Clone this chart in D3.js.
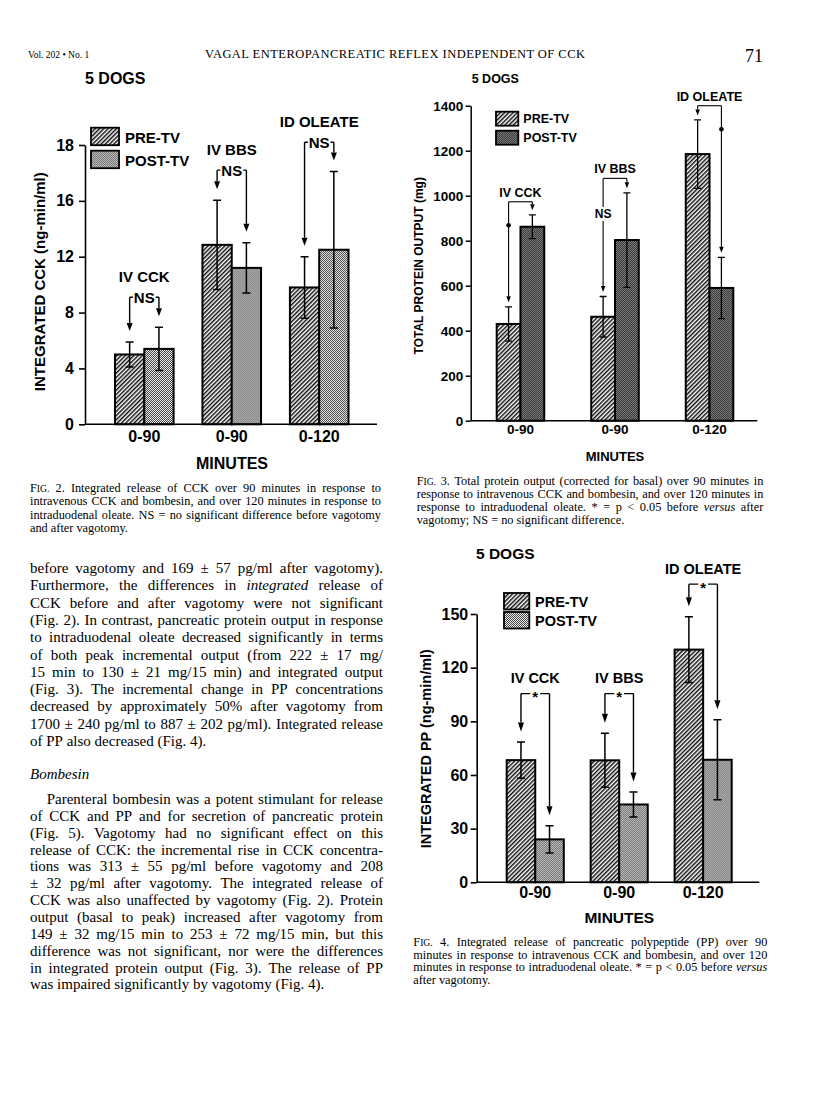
<!DOCTYPE html>
<html>
<head>
<meta charset="utf-8">
<script src="https://cdn.jsdelivr.net/npm/d3@7"></script>
<style>
  body { margin: 0; background: #fff; }
  svg { display: block; }
</style>
</head>
<body>
<svg id="page" width="816" height="1093"></svg>
<script>
// shared categories
const groups = ['IV CCK', 'IV BBS', 'ID OLEATE'];
const minuteLabels = ['0-90', '0-90', '0-120'];
const series = ['PRE-TV', 'POST-TV'];

// Fig. 2 - integrated CCK (ng-min/ml)
const cckPre = [5.0, 12.85, 9.8];
const cckPreErr = [0.9, 3.2, 2.2];
const cckPost = [5.4, 11.2, 12.5];
const cckPostErr = [1.55, 1.8, 5.6];
const cckSig = ['NS', 'NS', 'NS'];
const cckSigLevel = [9.1, 18.2, 20.2];
const cckTicks = [0, 4, 8, 12, 16, 20];
const cckTickLabels = ['0', '4', '8', '12', '16', '18'];

// Fig. 3 - total protein output (mg)
const protPre = [430, 462, 1185];
const protPreErr = [76, 90, 152];
const protPost = [862, 803, 590];
const protPostErr = [53, 210, 136];
const protSig = ['*', 'NS', '*'];
const protSigLevel = [973, 1077, 1400];
const protTicks = [0, 200, 400, 600, 800, 1000, 1200, 1400];
const protTickLabels = ['0', '200', '400', '600', '800', '1000', '1200', '1400'];

// Fig. 4 - integrated PP (ng-min/ml)
const ppPre = [68.3, 68.2, 130.1];
const ppPreErr = [10.1, 15.1, 18.4];
const ppPost = [24, 43.5, 68.5];
const ppPostErr = [7.6, 7, 22.4];
const ppSig = ['*', '*', '*'];
const ppSigLevel = [105.5, 105.5, 166.7];
const ppTicks = [0, 30, 60, 90, 120, 150];
const ppTickLabels = ['0', '30', '60', '90', '120', '150'];

const svg = d3.select('#page');
const defs = svg.append('defs');

// hatch for PRE-TV
const hatch = defs.append('pattern').attr('id', 'hatch')
  .attr('patternUnits', 'userSpaceOnUse')
  .attr('width', 3).attr('height', 6)
  .attr('patternTransform', 'rotate(45)');
hatch.append('rect').attr('width', 3).attr('height', 6).attr('fill', '#fff');
hatch.append('line').attr('x1', 0.75).attr('x2', 0.75).attr('y1', 0).attr('y2', 6)
  .attr('stroke', '#000').attr('stroke-width', 1.4);

// stipple for POST-TV
function stipple(id, bg, fg) {
  const p = defs.append('pattern').attr('id', id)
    .attr('patternUnits', 'userSpaceOnUse').attr('width', 2).attr('height', 2);
  p.append('rect').attr('width', 2).attr('height', 2).attr('fill', bg);
  p.append('rect').attr('width', 1).attr('height', 1).attr('fill', fg);
  p.append('rect').attr('x', 1).attr('y', 1).attr('width', 1).attr('height', 1).attr('fill', fg);
}
stipple('dotsLight', '#eee', '#444');
stipple('dotsDark', '#999', '#1a1a1a');

function drawFigure(f) {
  const g = svg.append('g')
    .attr('font-family', 'Liberation Sans, Arial, sans-serif')
    .attr('font-weight', 'bold');

  const y = d3.scaleLinear().domain(f.domain).range([f.y0, f.yTop]);
  const x = d3.scaleBand().domain(d3.range(groups.length))
    .range(f.barSpan).paddingInner(f.padInner).paddingOuter(0);
  const xs = d3.scaleBand().domain(series).range([0, x.bandwidth()]);
  const fillOf = s => s === series[0] ? 'url(#hatch)' : f.postFill;

  const rows = groups.map((name, i) => ({
    i, name, mark: f.sig[i], level: f.sigLevel[i],
    vals: [
      { s: series[0], v: f.pre[i], e: f.preErr[i] },
      { s: series[1], v: f.post[i], e: f.postErr[i] }
    ]
  }));

  // bars
  const grp = g.selectAll('g.grp').data(rows).join('g')
    .attr('class', 'grp')
    .attr('transform', d => `translate(${x(d.i)},0)`);

  grp.selectAll('rect').data(d => d.vals).join('rect')
    .attr('x', d => xs(d.s))
    .attr('y', d => y(d.v))
    .attr('width', xs.bandwidth())
    .attr('height', d => y(0) - y(d.v))
    .attr('fill', d => fillOf(d.s))
    .attr('stroke', '#000')
    .attr('stroke-width', f.barW);

  // error bars
  grp.selectAll('path.err').data(d => d.vals).join('path')
    .attr('class', 'err')
    .attr('d', d => {
      const cx = xs(d.s) + xs.bandwidth() / 2;
      const t = y(d.v + d.e), b = y(d.v - d.e), c = f.capW;
      return `M${cx},${t}V${b}M${cx - c},${t}H${cx + c}M${cx - c},${b}H${cx + c}`;
    })
    .attr('fill', 'none')
    .attr('stroke', '#000')
    .attr('stroke-width', f.errW);

  // y axis
  const yAx = g.append('g')
    .attr('transform', `translate(${f.axisX},0)`)
    .call(d3.axisLeft(y).tickValues(f.ticks)
      .tickFormat((d, i) => f.tickLabels[i])
      .tickSize(f.tickLen).tickSizeOuter(0).tickPadding(f.tickPad));
  yAx.attr('font-family', null).attr('font-size', f.fs.tick);
  yAx.selectAll('path, line').attr('stroke-width', f.axisW);

  // x axis
  g.append('line')
    .attr('x1', f.axisX).attr('x2', f.xEnd)
    .attr('y1', y(0)).attr('y2', y(0))
    .attr('stroke', '#000').attr('stroke-width', f.axisW);
  const xAx = g.append('g')
    .attr('transform', `translate(0,${y(0)})`)
    .call(d3.axisBottom(x).tickFormat(i => minuteLabels[i]).tickSize(0).tickPadding(f.xPad));
  xAx.select('.domain').remove();
  xAx.attr('font-family', null).attr('font-size', f.fs.xTick);

  // titles
  g.append('text')
    .attr('transform', `translate(${f.ylab[1]},${f.ylab[2]}) rotate(-90)`)
    .attr('text-anchor', 'middle').attr('font-size', f.fs.ylab)
    .text(f.ylab[0]);
  g.append('text').attr('x', f.title[0]).attr('y', f.title[1])
    .attr('text-anchor', 'middle').attr('font-size', f.fs.title).text('MINUTES');
  g.append('text').attr('x', f.dogs[0]).attr('y', f.dogs[1])
    .attr('font-size', f.fs.dogs).text('5 DOGS');

  // legend
  const leg = g.selectAll('g.leg').data(series).join('g')
    .attr('class', 'leg')
    .attr('transform', (d, i) => `translate(${f.leg.x},${f.leg.y + i * f.leg.dy})`);
  leg.append('rect')
    .attr('width', f.leg.w).attr('height', f.leg.h)
    .attr('fill', d => fillOf(d))
    .attr('stroke', '#000').attr('stroke-width', 1.8);
  leg.append('text')
    .attr('x', f.leg.w + f.leg.gap).attr('y', f.leg.tb)
    .attr('font-size', f.fs.legend).text(d => d);

  // significance brackets
  rows.forEach(d => {
    const cxs = d.vals.map(v => x(d.i) + xs(v.s) + xs.bandwidth() / 2);
    const tips = d.vals.map(v => y(v.v + v.e) - f.arrowGap);
    const top = y(d.level);
    const mid = (cxs[0] + cxs[1]) / 2;
    const a = g.append('g').attr('stroke', '#000').attr('stroke-width', f.lineW).attr('fill', 'none');

    g.append('text').attr('x', mid).attr('y', top - f.labelGap)
      .attr('text-anchor', 'middle').attr('font-size', f.fs.group).text(d.name);

    const breaks = [null, null];
    if (f.markOn === 'bracket') {
      const t = g.append('text').attr('x', mid).attr('y', top + f.markDy)
        .attr('text-anchor', 'middle').attr('font-size', f.fs.sig).text(d.mark);
      const hw = t.node().getComputedTextLength() / 2 + f.markPad;
      a.append('path').attr('d', `M${cxs[0]},${top}H${mid - hw}M${mid + hw},${top}H${cxs[1]}`);
    } else {
      a.append('path').attr('d', `M${cxs[0]},${top}H${cxs[1]}`);
      const k = tips[0] > tips[1] ? 0 : 1;
      if (d.mark === 'NS') {
        const my = top + f.nsOff;
        g.append('text').attr('x', cxs[k]).attr('y', my + f.fs.sig * 0.36)
          .attr('text-anchor', 'middle').attr('font-size', f.fs.sig).text(d.mark);
        breaks[k] = [my - 7, my + 7];
      } else {
        g.append('circle').attr('cx', cxs[k]).attr('cy', top + f.starOff).attr('r', 2.3).attr('fill', '#000');
      }
    }

    cxs.forEach((cx, j) => {
      const end = tips[j] - f.arrowH;
      const br = breaks[j];
      const dd = br ? `M${cx},${top}V${br[0]}M${cx},${br[1]}V${end}` : `M${cx},${top}V${end}`;
      a.append('path').attr('d', dd);
      g.append('path')
        .attr('d', `M${cx - f.arrowW / 2},${end}L${cx + f.arrowW / 2},${end}L${cx},${tips[j]}Z`)
        .attr('fill', '#000');
    });
  });
}

drawFigure({
  pre: cckPre, preErr: cckPreErr, post: cckPost, postErr: cckPostErr,
  sig: cckSig, sigLevel: cckSigLevel, ticks: cckTicks, tickLabels: cckTickLabels,
  domain: [0, 20], y0: 424.3, yTop: 145, axisX: 85, xEnd: 377,
  barSpan: [115, 348.5], padInner: 0.33, postFill: 'url(#dotsLight)',
  barW: 2, errW: 1.5, capW: 4, axisW: 1.6, tickLen: 6, tickPad: 5, xPad: 6.3,
  fs: { tick: 16, xTick: 16, title: 16, ylab: 15, legend: 15, group: 15, sig: 15, dogs: 16 },
  ylab: ['INTEGRATED CCK (ng-min/ml)', 45, 281.7],
  title: [232, 469.3], dogs: [85, 84],
  leg: { x: 91, y: 127.7, dy: 23, w: 28, h: 17.5, gap: 6, tb: 15 },
  markOn: 'bracket', markDy: 5.4, markPad: 1, labelGap: 15.5,
  arrowGap: 11, arrowW: 6, arrowH: 8, lineW: 1.4
});

drawFigure({
  pre: protPre, preErr: protPreErr, post: protPost, postErr: protPostErr,
  sig: protSig, sigLevel: protSigLevel, ticks: protTicks, tickLabels: protTickLabels,
  domain: [0, 1400], y0: 420.7, yTop: 105.7, axisX: 470.7, xEnd: 757.3,
  barSpan: [496.7, 733.3], padInner: 0.497, postFill: 'url(#dotsDark)',
  barW: 2, errW: 1.3, capW: 3.5, axisW: 1.5, tickLen: 5, tickPad: 2.5, xPad: 3.7,
  fs: { tick: 13.5, xTick: 13.5, title: 13, ylab: 12, legend: 12.5, group: 12.5, sig: 12, dogs: 12.5 },
  ylab: ['TOTAL PROTEIN OUTPUT (mg)', 423.3, 265.8],
  title: [615, 460.7], dogs: [471.7, 82.7],
  leg: { x: 496, y: 111.7, dy: 19, w: 22.3, h: 14, gap: 5, tb: 11.6 },
  markOn: 'line', nsOff: 35.7, starOff: 23.5, labelGap: 5,
  arrowGap: 4.5, arrowW: 4.5, arrowH: 6, lineW: 1.1
});

drawFigure({
  pre: ppPre, preErr: ppPreErr, post: ppPost, postErr: ppPostErr,
  sig: ppSig, sigLevel: ppSigLevel, ticks: ppTicks, tickLabels: ppTickLabels,
  domain: [0, 150], y0: 882.3, yTop: 614, axisX: 476.7, xEnd: 759.3,
  barSpan: [506.7, 731.7], padInner: 0.32, postFill: 'url(#dotsLight)',
  barW: 2, errW: 1.5, capW: 4, axisW: 1.6, tickLen: 6, tickPad: 2.5, xPad: 4.3,
  fs: { tick: 16, xTick: 16, title: 15.5, ylab: 14.5, legend: 14.5, group: 14.5, sig: 15, dogs: 15.5 },
  ylab: ['INTEGRATED PP (ng-min/ml)', 430.7, 748.7],
  title: [619.3, 923.3], dogs: [476, 559.3],
  leg: { x: 504, y: 593, dy: 19, w: 25.3, h: 16.5, gap: 5.7, tb: 13.7 },
  markOn: 'bracket', markDy: 8.7, markPad: 2, labelGap: 10.3,
  arrowGap: 10.5, arrowW: 6, arrowH: 9, lineW: 1.4
});

// running text
function textBlock(lines, o) {
  const blk = svg.append('g')
    .attr('font-family', 'Liberation Serif, Times New Roman, serif')
    .attr('font-size', o.fs);
  lines.forEach((line, li) => {
    const yy = o.y + li * o.lh;
    const x0 = o.x0 + (li === 0 ? (o.indent || 0) : 0);
    const words = line.split(' ').map(w => {
      const t = blk.append('text').attr('y', yy);
      if (w === 'FIG.') {
        t.text('F');
        t.append('tspan').attr('font-size', o.fs * 0.78).text('IG.');
      } else if (w.startsWith('_') && w.endsWith('_')) {
        t.attr('font-style', 'italic').text(w.slice(1, -1));
      } else {
        t.text(w);
      }
      return { t, w: t.node().getComputedTextLength() };
    });
    const total = d3.sum(words, d => d.w);
    const last = li === lines.length - 1;
    const gap = (last || words.length < 2) ? o.fs * 0.25 : (o.x1 - x0 - total) / (words.length - 1);
    let cx = x0;
    words.forEach(d => { d.t.attr('x', cx); cx += d.w + gap; });
  });
}

// running head
svg.append('text').attr('x', 28).attr('y', 58.3)
  .attr('font-family', 'Liberation Serif, serif').attr('font-size', 9.5)
  .text('Vol. 202 • No. 1');
svg.append('text').attr('x', 205).attr('y', 58.3)
  .attr('font-family', 'Liberation Serif, serif').attr('font-size', 12.5)
  .attr('textLength', 380).attr('lengthAdjust', 'spacing')
  .text('VAGAL ENTEROPANCREATIC REFLEX INDEPENDENT OF CCK');
svg.append('text').attr('x', 745).attr('y', 61.7)
  .attr('font-family', 'Liberation Serif, serif').attr('font-size', 18)
  .text('71');

textBlock([
  'FIG. 2. Integrated release of CCK over 90 minutes in response to',
  'intravenous CCK and bombesin, and over 120 minutes in response to',
  'intraduodenal oleate. NS = no significant difference before vagotomy',
  'and after vagotomy.'
], { x0: 30, x1: 381, y: 492, lh: 13.3, fs: 12.3 });

textBlock([
  'FIG. 3. Total protein output (corrected for basal) over 90 minutes in',
  'response to intravenous CCK and bombesin, and over 120 minutes in',
  'response to intraduodenal oleate. * = p < 0.05 before _versus_ after',
  'vagotomy; NS = no significant difference.'
], { x0: 416.7, x1: 763.3, y: 484.5, lh: 13, fs: 12.3 });

textBlock([
  'FIG. 4. Integrated release of pancreatic polypeptide (PP) over 90',
  'minutes in response to intravenous CCK and bombesin, and over 120',
  'minutes in response to intraduodenal oleate. * = p < 0.05 before _versus_',
  'after vagotomy.'
], { x0: 413.3, x1: 767.3, y: 946, lh: 12.5, fs: 12.3 });

textBlock([
  'before vagotomy and 169 ± 57 pg/ml after vagotomy).',
  'Furthermore, the differences in _integrated_ release of',
  'CCK before and after vagotomy were not significant',
  '(Fig. 2). In contrast, pancreatic protein output in response',
  'to intraduodenal oleate decreased significantly in terms',
  'of both peak incremental output (from 222 ± 17 mg/',
  '15 min to 130 ± 21 mg/15 min) and integrated output',
  '(Fig. 3). The incremental change in PP concentrations',
  'decreased by approximately 50% after vagotomy from',
  '1700 ± 240 pg/ml to 887 ± 202 pg/ml). Integrated release',
  'of PP also decreased (Fig. 4).'
], { x0: 30, x1: 383, y: 573, lh: 17.3, fs: 15 });

svg.append('text').attr('x', 30).attr('y', 779.3)
  .attr('font-family', 'Liberation Serif, serif').attr('font-size', 15)
  .attr('font-style', 'italic').text('Bombesin');

textBlock([
  'Parenteral bombesin was a potent stimulant for release',
  'of CCK and PP and for secretion of pancreatic protein',
  '(Fig. 5). Vagotomy had no significant effect on this',
  'release of CCK: the incremental rise in CCK concentra-',
  'tions was 313 ± 55 pg/ml before vagotomy and 208',
  '± 32 pg/ml after vagotomy. The integrated release of',
  'CCK was also unaffected by vagotomy (Fig. 2). Protein',
  'output (basal to peak) increased after vagotomy from',
  '149 ± 32 mg/15 min to 253 ± 72 mg/15 min, but this',
  'difference was not significant, nor were the differences',
  'in integrated protein output (Fig. 3). The release of PP',
  'was impaired significantly by vagotomy (Fig. 4).'
], { x0: 30, x1: 383, y: 804, lh: 16.85, fs: 15, indent: 16.7 });
</script>
</body>
</html>
